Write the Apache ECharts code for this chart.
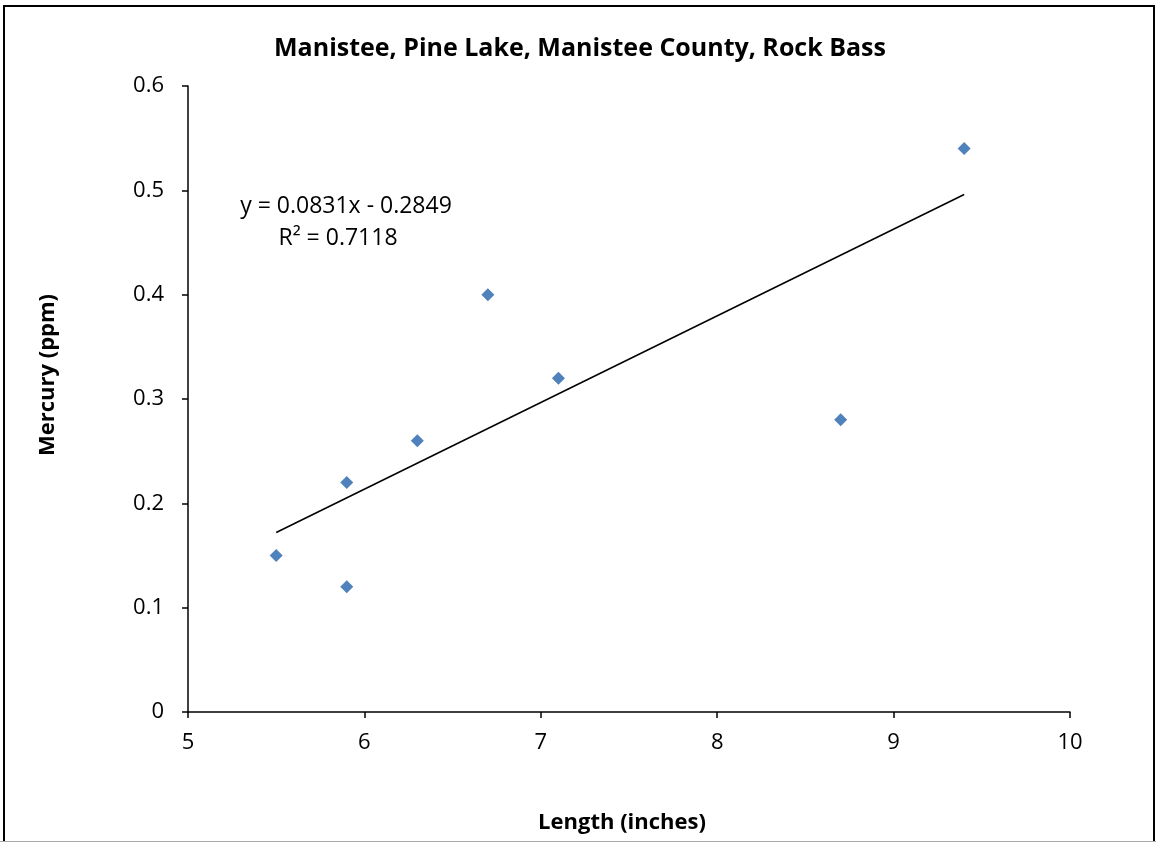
<!DOCTYPE html>
<html><head><meta charset="utf-8">
<script src="https://cdn.jsdelivr.net/npm/echarts@6/dist/echarts.min.js"></script>
<style>html,body{margin:0;padding:0;background:#fff}#c{width:1156px;height:842px}</style>
</head><body><div id="c"></div>
<script>
const lengths = [5.5, 5.9, 5.9, 6.3, 6.7, 7.1, 8.7, 9.4];
const mercury = [0.15, 0.12, 0.22, 0.26, 0.40, 0.32, 0.28, 0.54];
const trendX = [5.5, 9.4];
const trendY = [0.172, 0.496];
const xTicks = [5, 6, 7, 8, 9, 10];
const yTicks = [0, 0.1, 0.2, 0.3, 0.4, 0.5, 0.6];
const titleText = 'Manistee, Pine Lake, Manistee County, Rock Bass';
const xTitle = 'Length (inches)';
const yTitle = 'Mercury (ppm)';
const eqText = 'y = 0.0831x - 0.2849';
const r2Text = 'R² = 0.7118';

const font = 'Open Sans, Liberation Sans, sans-serif';
const chart = echarts.init(document.getElementById('c'));
chart.setOption({
  animation: false,
  backgroundColor: '#fff',
  grid: {left: 188, right: 86, top: 86, bottom: 130},
  xAxis: {type: 'value', min: xTicks[0], max: xTicks[xTicks.length-1], interval: 1,
    axisLine: {lineStyle: {color: '#000', width: 1.5}},
    axisTick: {show: true, length: 6, lineStyle: {color: '#000', width: 1.5}},
    axisLabel: {fontFamily: font, fontSize: 22, color: '#000', margin: 20},
    splitLine: {show: false}},
  yAxis: {type: 'value', min: yTicks[0], max: yTicks[yTicks.length-1], interval: 0.1,
    axisLine: {show: true, lineStyle: {color: '#000', width: 1.5}},
    axisTick: {show: true, length: 6, lineStyle: {color: '#000', width: 1.5}},
    axisLabel: {fontFamily: font, fontSize: 22, color: '#000', margin: 24,
      formatter: v => (Math.round(v*10)/10).toString()},
    splitLine: {show: false}},
  series: [
    {type: 'line', data: trendX.map((x,i)=>[x, trendY[i]]), symbol: 'none',
      lineStyle: {color: '#000', width: 1.5}, z: 2},
    {type: 'scatter', data: lengths.map((x,i)=>[x, mercury[i]]), symbol: 'diamond',
      symbolSize: 13, itemStyle: {color: '#4F81BD', opacity: 1}, z: 3}
  ],
  graphic: [
    {type: 'rect', shape: {x: 4, y: 6, width: 1150, height: 845}, style: {fill: 'none', stroke: '#000', lineWidth: 2}},
    {type: 'line', shape: {x1: 0, y1: 841.5, x2: 1156, y2: 841.5}, style: {stroke: '#aaa', lineWidth: 1}},
    {type: 'text', x: 580, y: 49, style: {text: titleText, fontFamily: font, fontSize: 25, fontWeight: 'bold', fill: '#000', align: 'center', verticalAlign: 'middle'}},
    {type: 'text', x: 622, y: 823, style: {text: xTitle, fontFamily: font, fontSize: 22, fontWeight: 'bold', fill: '#000', align: 'center', verticalAlign: 'middle'}},
    {type: 'text', x: 48, y: 375, rotation: Math.PI/2, style: {text: yTitle, fontFamily: font, fontSize: 22, fontWeight: 'bold', fill: '#000', align: 'center', verticalAlign: 'middle'}},
    {type: 'text', x: 346, y: 206, style: {text: eqText, fontFamily: font, fontSize: 23, fill: '#000', align: 'center', verticalAlign: 'middle'}},
    {type: 'text', x: 338, y: 238, style: {text: r2Text, fontFamily: font, fontSize: 23, fill: '#000', align: 'center', verticalAlign: 'middle'}}
  ]
});
</script></body></html>
